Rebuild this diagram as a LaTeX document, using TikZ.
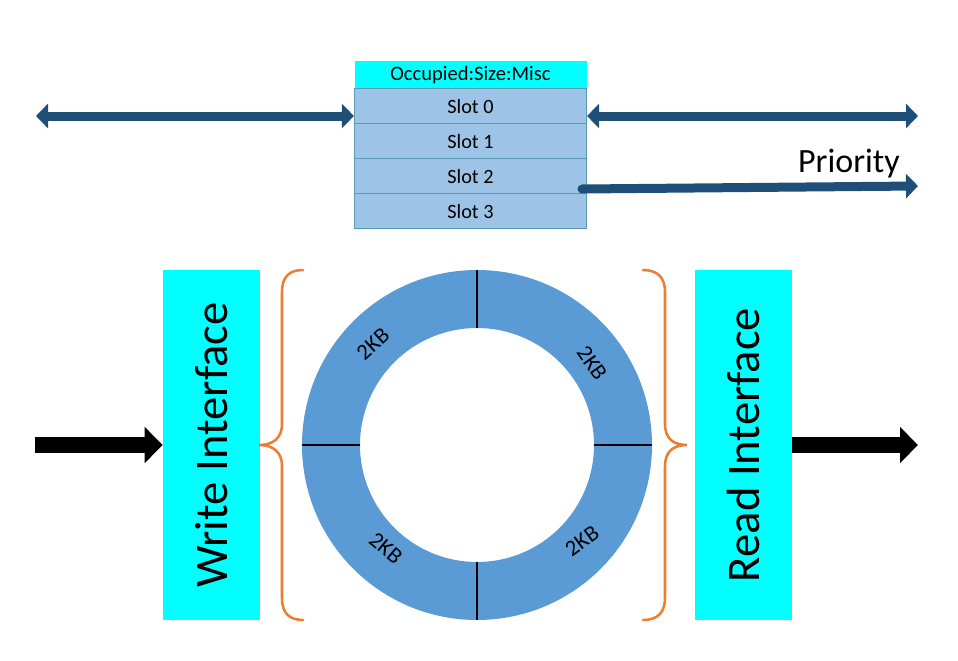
\documentclass[tikz,border=0pt]{standalone}
\usepackage{fontspec}
\setmainfont{Carlito}
\usetikzlibrary{arrows.meta}
\definecolor{cyanbox}{HTML}{00FFFF}
\definecolor{slotblue}{HTML}{9DC3E6}
\definecolor{slotline}{HTML}{5A9AB4}
\definecolor{darkblue}{HTML}{1F4E79}
\definecolor{ringblue}{HTML}{5B9BD5}
\definecolor{braceorange}{HTML}{ED7D31}
\begin{document}
\begin{tikzpicture}[x=0.75pt,y=-0.75pt,
  cell/.style={draw=slotline, line width=0.9pt, fill=slotblue, minimum width=174pt, minimum height=26.25pt, inner sep=0pt, anchor=north, font=\fontsize{15.2}{18}\selectfont},
  hdrcell/.style={fill=cyanbox, minimum width=174pt, minimum height=20.25pt, inner sep=0pt, anchor=north, font=\fontsize{15.4}{18}\selectfont},
  ifbox/.style={fill=cyanbox, rotate=90, minimum width=262.5pt, minimum height=72.75pt, inner sep=0pt, font=\fontsize{35}{40}\selectfont},
  bluearrow/.style={draw=darkblue, line width=6.75pt},
  blackarrow/.style={draw=black, line width=12pt, -{Triangle[length=13.5pt,width=26.25pt]}},
  kb/.style={font=\fontsize{17}{20}\selectfont, inner sep=0pt},
  brace/.style={draw=braceorange, line width=1.9pt, line cap=round},
  divider/.style={draw=black, line width=1.5pt}]
\useasboundingbox (0,0) rectangle (958,661);
% table
\node[hdrcell] (hdr) at (470.5,61) {Occupied:Size:Misc};
\node[cell] (s0) at (470.5,88) {Slot 0};
\node[cell] (s1) at (470.5,123) {Slot 1};
\node[cell] (s2) at (470.5,158) {Slot 2};
\node[cell] (s3) at (470.5,193) {Slot 3};
% top arrows
\coordinate (lend) at (36,116);
\coordinate (rend) at (918,116);
\coordinate (pstart) at (582,189);
\coordinate (pend) at (918,186);
\draw[bluearrow, {Triangle[length=9pt,width=18pt]}-{Triangle[length=9pt,width=18pt]}] (lend) -- (lend -| s0.west);
\draw[bluearrow, {Triangle[length=9pt,width=18pt]}-{Triangle[length=9pt,width=18pt]}] (rend -| s0.east) -- (rend);
\draw[bluearrow, line cap=round, -{Triangle[length=9pt,width=18pt]}] (pstart) -- (pend);
\node[anchor=base east, inner sep=0pt, font=\fontsize{25.5}{30}\selectfont] (prio) at (900,172) {Priority};
% interfaces
\node[ifbox] (wif) at (211.5,445) {Write Interface};
\node[ifbox] (rif) at (743,445) {Read Interface};
\coordinate (inl) at (35,445);
\coordinate (outr) at (918,445);
\draw[blackarrow] (inl) -- (wif.north);
\draw[blackarrow] (rif.south) -- (outr);
% ring
\coordinate (rc) at (477,445);
\fill[ringblue, even odd rule] (rc) circle (131.25pt) (rc) circle (87.75pt);
\draw[divider] (477,270) -- (477,328);
\draw[divider] (477,562) -- (477,620);
\draw[divider] (302,445) -- (360,445);
\draw[divider] (594,445) -- (652,445);
\node[kb, rotate=42] (kb1) at (373,344) {2KB};
\node[kb, rotate=-55] (kb2) at (592,363) {2KB};
\node[kb, rotate=-40] (kb3) at (386,548) {2KB};
\node[kb, rotate=36] (kb4) at (582,541) {2KB};
% braces
\draw[brace] (303,270) .. controls (289,270) and (282,277) .. (282,292) -- (282,424) .. controls (282,439) and (272,445) .. (259,445) .. controls (272,445) and (282,451) .. (282,466) -- (282,598) .. controls (282,613) and (289,620) .. (303,620);
\draw[brace] (643,270) .. controls (657,270) and (665,277) .. (665,292) -- (665,424) .. controls (665,439) and (674,445) .. (687,445) .. controls (674,445) and (665,451) .. (665,466) -- (665,598) .. controls (665,613) and (657,620) .. (643,620);
\end{tikzpicture}
\end{document}
